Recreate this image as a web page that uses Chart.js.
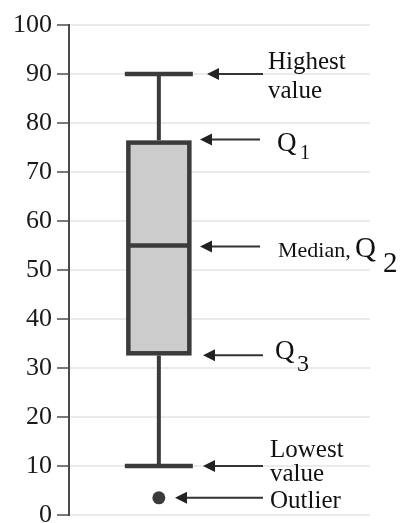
<!DOCTYPE html>
<html>
<head>
<meta charset="utf-8">
<script src="https://cdn.jsdelivr.net/npm/chart.js@4.4.1/dist/chart.umd.min.js"></script>
<style>
  html, body { margin: 0; padding: 0; background: #ffffff; font-family: 'Liberation Serif', serif; }
  #wrap { width: 409px; height: 523px; }
</style>
</head>
<body>
<div id="wrap"><canvas id="chart" width="409" height="523"></canvas></div>
<script>
// Five-number summary of the sample, plus its outlier
const groups = ['Sample'];
const highestValue = [90];
const q1 = [76];
const median = [55];
const q3 = [33];
const lowestValue = [10];
const outliers = [3.5];
const yTicks = [0, 10, 20, 30, 40, 50, 60, 70, 80, 90, 100];

const INK = '#3b3b3b';
const SERIF = "'Liberation Serif', serif";

// Whiskers, box outline, median bar and the explanatory arrows
const boxPlotParts = {
  id: 'boxPlotParts',
  afterDatasetsDraw(chart) {
    const ctx = chart.ctx;
    const y = chart.scales.y;
    const box = chart.getDatasetMeta(0).data[0];
    if (!box) return;
    const cx = box.x;
    const half = box.width / 2;
    const capHalf = 34;

    ctx.save();
    ctx.strokeStyle = INK;
    ctx.lineCap = 'butt';

    // box outline
    ctx.lineWidth = 4.5;
    ctx.strokeRect(cx - half, box.y, box.width, box.base - box.y);

    // median
    const my = y.getPixelForValue(median[0]);
    ctx.beginPath();
    ctx.moveTo(cx - half, my);
    ctx.lineTo(cx + half, my);
    ctx.stroke();

    // whisker stems
    ctx.lineWidth = 4;
    const hiY = y.getPixelForValue(highestValue[0]);
    const loY = y.getPixelForValue(lowestValue[0]);
    ctx.beginPath();
    ctx.moveTo(cx, hiY);
    ctx.lineTo(cx, box.y - 2.25);
    ctx.moveTo(cx, box.base + 2.25);
    ctx.lineTo(cx, loY);
    ctx.stroke();

    // whisker caps
    ctx.lineWidth = 4.5;
    ctx.beginPath();
    ctx.moveTo(cx - capHalf, hiY);
    ctx.lineTo(cx + capHalf, hiY);
    ctx.moveTo(cx - capHalf, loY);
    ctx.lineTo(cx + capHalf, loY);
    ctx.stroke();
    ctx.restore();

    // callouts
    const arrow = (tipX, tailX, py) => {
      ctx.save();
      ctx.strokeStyle = '#333333';
      ctx.fillStyle = '#222222';
      ctx.lineWidth = 2;
      ctx.beginPath();
      ctx.moveTo(tailX, py);
      ctx.lineTo(tipX + 8, py);
      ctx.stroke();
      ctx.beginPath();
      ctx.moveTo(tipX, py);
      ctx.lineTo(tipX + 12, py - 6);
      ctx.lineTo(tipX + 12, py + 6);
      ctx.closePath();
      ctx.fill();
      ctx.restore();
    };
    const text = (str, size, x, by) => {
      ctx.save();
      ctx.fillStyle = '#111111';
      ctx.font = size + 'px ' + SERIF;
      ctx.textBaseline = 'alphabetic';
      ctx.textAlign = 'left';
      ctx.fillText(str, x, by);
      ctx.restore();
    };

    const pHi = y.getPixelForValue(highestValue[0]);
    arrow(207, 263, pHi);
    text('Highest', 25, 268, pHi - 5);
    text('value', 25, 268, pHi + 24);

    const pQ1 = y.getPixelForValue(q1[0]) - 3;
    arrow(200, 260, pQ1);
    text('Q', 27, 277, pQ1 + 11);
    text('1', 20, 300, pQ1 + 19);

    const pMed = y.getPixelForValue(median[0]) + 1;
    arrow(200, 260, pMed);
    text('Median,', 22, 278, pMed + 10);
    text('Q', 29, 355, pMed + 10);
    text('2', 29, 383, pMed + 25);

    const pQ3 = y.getPixelForValue(q3[0]) + 2;
    arrow(203, 263, pQ3);
    text('Q', 27, 275, pQ3 + 4);
    text('3', 24, 297, pQ3 + 16);

    const pLo = y.getPixelForValue(lowestValue[0]);
    arrow(203, 263, pLo);
    text('Lowest', 25, 270, pLo - 9);
    text('value', 25, 270, pLo + 15);

    const pOut = y.getPixelForValue(outliers[0]);
    arrow(175, 263, pOut);
    text('Outlier', 25, 270, pOut + 10);
  }
};

function drawChart() {
  new Chart(document.getElementById('chart'), {
    data: {
      datasets: [
        {
          type: 'bar',
          label: groups[0],
          data: groups.map((g, i) => ({ x: i, y: [q3[i], q1[i]] })),
          backgroundColor: '#cccccc',
          borderWidth: 0,
          barThickness: 61
        },
        {
          type: 'scatter',
          label: 'Outliers',
          data: outliers.map(v => ({ x: 0, y: v })),
          backgroundColor: INK,
          borderWidth: 0,
          pointRadius: 6.5
        }
      ]
    },
    options: {
      responsive: false,
      animation: false,
      events: [],
      layout: { padding: { top: 25, bottom: 8, left: 0, right: 39 } },
      plugins: { legend: { display: false }, tooltip: { enabled: false } },
      scales: {
        x: { type: 'linear', min: -1, max: 2.35, offset: false, display: false },
        y: {
          type: 'linear',
          min: 0,
          max: 100,
          afterBuildTicks(scale) { scale.ticks = yTicks.map(v => ({ value: v })); },
          afterFit(scale) {
            scale.width = 69;
            scale.paddingTop = 0;
            scale.paddingBottom = 0;
          },
          ticks: {
            color: '#1a1a1a',
            padding: 5,
            font: { family: SERIF, size: 26 }
          },
          grid: {
            color: '#ebebeb',
            lineWidth: 2,
            tickColor: '#7a7a7a',
            tickLength: 12,
            tickWidth: 2
          },
          border: { color: '#4a4a4a', width: 2 }
        }
      }
    },
    plugins: [boxPlotParts]
  });
}

// make sure the serif face is ready before the canvas text is laid out
Promise.all([
  document.fonts.load("26px 'Liberation Serif'"),
  document.fonts.load("26px 'Liberation Serif'", '0123456789HighestvalueMdnQOutlierLow,')
]).then(drawChart, drawChart);
</script>
</body>
</html>
